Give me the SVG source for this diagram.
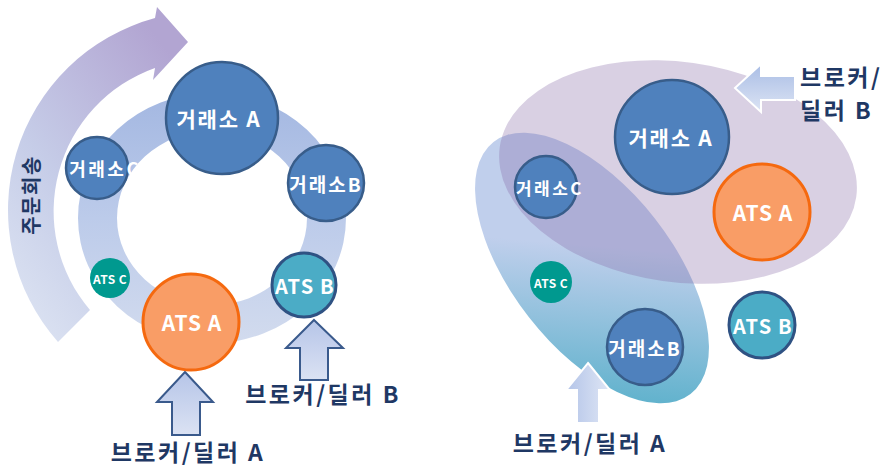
<svg xmlns="http://www.w3.org/2000/svg" width="884" height="469" viewBox="0 0 884 469">
<defs>
<linearGradient id="gCycle" x1="0" y1="1" x2="0.7" y2="0">
<stop offset="0" stop-color="#e0e7f4"/>
<stop offset="0.45" stop-color="#c6cde8"/>
<stop offset="1" stop-color="#b2a5d2"/>
</linearGradient>
<linearGradient id="gRing" x1="0" y1="0" x2="0" y2="1">
<stop offset="0" stop-color="#a3b7e1"/>
<stop offset="0.5" stop-color="#bccbea"/>
<stop offset="1" stop-color="#d2dbee"/>
</linearGradient>
<linearGradient id="gUp" x1="0" y1="0" x2="0" y2="1">
<stop offset="0" stop-color="#b6c5e8"/>
<stop offset="1" stop-color="#dbe2f3"/>
</linearGradient>
<linearGradient id="gUpR" x1="0" y1="0" x2="1" y2="0">
<stop offset="0" stop-color="#b3c4e8"/>
<stop offset="1" stop-color="#dfe6f5"/>
</linearGradient>
<linearGradient id="gLeft" x1="0" y1="0" x2="0" y2="1">
<stop offset="0" stop-color="#a9bde5"/>
<stop offset="1" stop-color="#dce4f4"/>
</linearGradient>
<linearGradient id="gLeaf" gradientUnits="userSpaceOnUse" x1="560" y1="270" x2="700" y2="400">
<stop offset="0" stop-color="#c0cfec"/>
<stop offset="1" stop-color="#49abc5"/>
</linearGradient>
</defs>
<style>
text{font-family:"Noto Sans CJK KR","Noto Sans",sans-serif;font-weight:bold;text-anchor:middle;dominant-baseline:central}
.wt{fill:#ffffff}
.lbl{fill:#1f3864;font-size:23px;letter-spacing:2.5px}
.ex{fill:#4f81bd;stroke:#385d8a;stroke-width:2.5}
.atsa{fill:#f99d66;stroke:#f5690f;stroke-width:3}
.atsb{fill:#4bacc6;stroke:#2f5283;stroke-width:3}
.atsc{fill:#00998f}
.upL{fill:url(#gUp);stroke:#3a5a8c;stroke-width:2}
</style>

<!-- Left diagram backgrounds -->
<g id="cycle-arrow">
<path d="M58,342 A199,199 0 0 1 155,18 L157,7 L188,42 L153,80 L155,68 A152,152 0 0 0 90,310 Z" fill="url(#gCycle)"/>
<text x="30" y="195" transform="rotate(-90 30 195)" style="fill:#1f3864;font-size:20px;letter-spacing:1.5px">주문회송</text>
</g>
<g id="ring">
<path fill="url(#gRing)" fill-rule="evenodd" d="M78,218 A134,125 0 1 0 346,218 A134,125 0 1 0 78,218 Z M117,218 A95,87 0 1 0 307,218 A95,87 0 1 0 117,218 Z"/>
</g>

<!-- Right diagram backgrounds -->
<g id="group-blue">
<ellipse cx="592" cy="268" rx="160" ry="80" transform="rotate(52 592 268)" fill="url(#gLeaf)"/>
</g>
<g id="group-purple">
<ellipse cx="678" cy="172" rx="180" ry="110" transform="rotate(8 678 172)" fill="#8064a2" fill-opacity="0.3"/>
</g>

<g id="connectors">
<path class="upL" d="M185,372 L213,402 L200,402 L200,435 L172,435 L172,402 L157,402 Z"/>
<path class="upL" d="M314,320 L343,348 L328,348 L328,380 L300,380 L300,348 L286,348 Z"/>
<path d="M735,88 L761,64 L761,76 L795,76 L795,100 L761,100 L761,112 Z" fill="url(#gLeft)" stroke="#ffffff" stroke-width="2"/>
<path d="M588,363 L610,390 L599,390 L599,423 L577,423 L577,390 L566,390 Z" fill="url(#gUpR)" stroke="#ffffff" stroke-width="2"/>
</g>

<!-- Left nodes -->
<g id="L-exA"><circle class="ex" cx="222" cy="118" r="56"/><text class="wt" x="219" y="118" style="font-size:21px;letter-spacing:1.8px">거래소 A</text></g>
<g id="L-exC"><circle class="ex" cx="97" cy="168" r="31"/><text class="wt" x="105" y="168" style="font-size:18px;letter-spacing:2.5px">거래소C</text></g>
<g id="L-exB"><circle class="ex" cx="326" cy="183" r="38"/><text class="wt" x="326" y="183" style="font-size:19px;letter-spacing:2px">거래소B</text></g>
<g id="L-atsC"><circle class="atsc" cx="110" cy="278" r="20"/><text class="wt" x="110" y="278" style="font-size:12px;letter-spacing:0.4px">ATS C</text></g>
<g id="L-atsA"><circle class="atsa" cx="191" cy="322" r="48"/><text class="wt" x="192" y="322" style="font-size:21px;letter-spacing:1px">ATS A</text></g>
<g id="L-atsB"><circle class="atsb" cx="304" cy="285" r="32"/><text class="wt" x="305" y="285" style="font-size:20px;letter-spacing:1.2px">ATS B</text></g>
<g id="L-bdA"><text class="lbl" x="188" y="451">브로커/딜러 A</text></g>
<g id="L-bdB"><text class="lbl" x="323" y="393">브로커/딜러 B</text></g>

<!-- Right nodes -->
<g id="R-exA"><circle class="ex" cx="672" cy="137" r="57"/><text class="wt" x="671" y="137" style="font-size:21px;letter-spacing:1.8px">거래소 A</text></g>
<g id="R-exC"><circle class="ex" cx="546" cy="187" r="31"/><text class="wt" x="550" y="187" style="font-size:17px;letter-spacing:2.5px">거래소C</text></g>
<g id="R-atsA"><circle class="atsa" cx="762" cy="212" r="48"/><text class="wt" x="763" y="212" style="font-size:21px;letter-spacing:1px">ATS A</text></g>
<g id="R-atsC"><circle class="atsc" cx="551" cy="282" r="21"/><text class="wt" x="551" y="282" style="font-size:12px;letter-spacing:0.4px">ATS C</text></g>
<g id="R-exB"><circle class="ex" cx="645" cy="347" r="38"/><text class="wt" x="645" y="347" style="font-size:19px;letter-spacing:2px">거래소B</text></g>
<g id="R-atsB"><circle class="atsb" cx="762" cy="325" r="33"/><text class="wt" x="763" y="325" style="font-size:20px;letter-spacing:1.2px">ATS B</text></g>
<g id="R-bdA"><text class="lbl" x="590" y="442">브로커/딜러 A</text></g>
<g id="R-bdB"><text class="lbl" x="800" y="76" style="text-anchor:start">브로커/</text><text class="lbl" x="800" y="109" style="text-anchor:start">딜러 B</text></g>
</svg>
